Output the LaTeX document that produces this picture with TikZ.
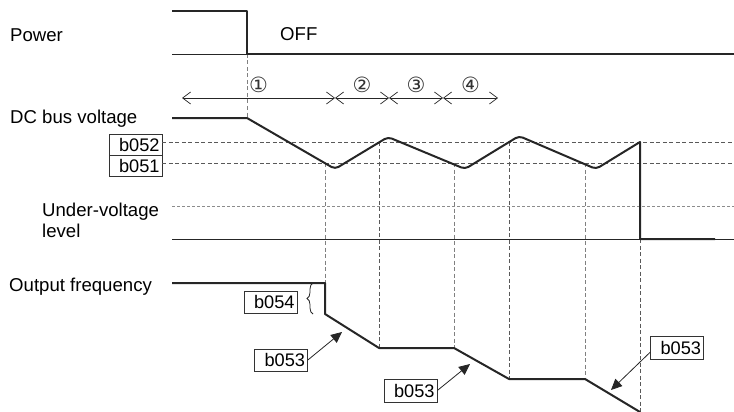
\documentclass[tikz,border=0pt]{standalone}
\usepackage{fontspec}
\setmainfont{Liberation Sans}
\newfontfamily\symfont{DejaVu Sans}
\usepackage{tikz}
\usetikzlibrary{arrows.meta,decorations.pathreplacing,positioning,calc}
\tikzset{
  tsig/.style={black!85, line width=2pt, line join=round},
  tbase/.style={black!85, line width=0.9pt},
  tguide/.style={black!65, line width=0.7pt, dash pattern=on 4pt off 2.5pt},
  tlevel/.style={black!45, line width=0.7pt, dash pattern=on 3pt off 2pt},
  tlbl/.style={font=\fontsize{18.6}{22}\selectfont, inner sep=0pt, anchor=base west},
  tbox/.style={draw=black!80, line width=0.7pt, font=\fontsize{18.2}{20}\selectfont,
               text width=48pt, align=right, minimum height=21pt, inner sep=2.5pt},
  tnum/.style={font=\symfont\fontsize{21}{22}\selectfont, inner sep=0pt, black!80},
  tspan/.style={{Straight Barb[length=8pt,width=12pt]}-{Straight Barb[length=8pt,width=12pt]},
                black!85, line width=0.7pt},
  tptr/.style={-{Triangle[length=11pt,width=10pt]}, black!85, line width=0.8pt},
}

\begin{document}
\begin{tikzpicture}[x=1pt,y=-1pt]
  \useasboundingbox (0,0) rectangle (734,412);

  % alimentação
  \coordinate (p0) at (172,11);
  \coordinate (p1) at (247,11);
  \coordinate (p2) at (247,54);
  \coordinate (p3) at (734,54);
  \coordinate (pL) at (172,54);

  % tensão do barramento
  \coordinate (v0) at (172,118);
  \coordinate (v1) at (247,118);
  \coordinate (v2) at (335,169);
  \coordinate (v3) at (388,137);
  \coordinate (v4) at (465,169);
  \coordinate (v5) at (519,136);
  \coordinate (v6) at (596,169);
  \coordinate (v7) at (640,142);
  \coordinate (v8) at (640,239);
  \coordinate (v9) at (715,239);

  % frequência de saída
  \coordinate (f0) at (172,283);
  \coordinate (f1) at (325,283);
  \coordinate (f2) at (325,314);
  \coordinate (f3) at (379,348);
  \coordinate (f4) at (454,348);
  \coordinate (f5) at (509,379);
  \coordinate (f6) at (585,379);
  \coordinate (f7) at (640,412);

  % cruzamentos com b051 / b052
  \coordinate (g1) at (325,163);
  \coordinate (g2) at (379,142);
  \coordinate (g3) at (454,163);
  \coordinate (g4) at (509,142);
  \coordinate (g5) at (585,163);

  % rótulos à esquerda
  \node[tlbl] (pwr) at (10,41.5) {Power};
  \node[tlbl] (off) at (280,40.7) {OFF};
  \node[tlbl] (dcv) at (10,124) {DC bus voltage};
  \node[tlbl] (uvl) at (42,216) {Under-voltage};
  \node[tlbl] (uvl2) at (42,237) {level};
  \node[tlbl] (fout) at (9,291) {Output frequency};

  % níveis b052 / b051
  \node[tbox] (b52) at (135.5,144.5) {b052};
  \node[tbox] (b51) at (135.5,165.5) {b051};
  \coordinate (t52) at (b52.east |- g2);
  \coordinate (t51) at (b51.east |- g1);
  \draw[tguide] (t52) -- (t52 -| p3);
  \draw[tguide] (t51) -- (t51 -| p3);

  % subtensão e linha de base
  \coordinate (uv) at (172,206);
  \draw[tlevel] (uv) -- (uv -| p3);
  \draw[tbase] (v0 |- v8) -- (v8 -| p3);
  \draw[tbase] (pL) -- (p2);

  % guias verticais
  \draw[tguide, black!50] (p2) -- (v1);
  \draw[tguide, black!50] (g1) -- (f1);
  \draw[tguide] (g2) -- (f3);
  \draw[tguide, black!50] (g3) -- (f4);
  \draw[tguide] (g4) -- (f5);
  \draw[tguide, black!50] (g5) -- (f6);
  \draw[tguide] (v8) -- (f7);

  % intervalos 1-4
  \foreach \x [count=\i from 0] in {182,335,389,443,498}
    \coordinate (s\i) at (\x,98);
  \foreach \a/\b/\n in {0/1/①, 1/2/②, 2/3/③, 3/4/④}
    \draw[tspan] (s\a) -- node[tnum, yshift=13pt] {\n} (s\b);

  % sinais
  \draw[tsig] (p0) -- (p1) -- (p2) -- (p3);
  \draw[tsig] (v0) -- (v1) [rounded corners=4pt] -- (v2) -- (v3) -- (v4) -- (v5) -- (v6)
        [sharp corners] -- (v7) -- (v8) -- (v9);
  \draw[tsig] (f0) -- (f1) -- (f2) -- (f3) -- (f4) -- (f5) -- (f6) -- (f7);

  % b054 e chave
  \node[tbox, minimum height=22pt] (b54) at (270.5,302) {b054};
  \draw[black!85, line width=0.8pt, decorate, decoration={brace, amplitude=6pt}]
       ([xshift=-12pt]f2) -- ([xshift=-12pt]f1);

  % b053 com setas
  \node[tbox, minimum height=22pt] (b53a) at (281,360) {b053};
  \node[tbox, minimum height=23pt] (b53b) at (410.5,390.5) {b053};
  \node[tbox, minimum height=23pt] (b53c) at (677,347.5) {b053};
  \coordinate (a1) at (342,332);
  \coordinate (a2) at (470,364);
  \coordinate (a3) at (611,390);
  \draw[tptr] (b53a.east) -- (a1);
  \draw[tptr] (b53b.east) -- (a2);
  \draw[tptr] (b53c.190) -- (a3);

\end{tikzpicture}
\end{document}
